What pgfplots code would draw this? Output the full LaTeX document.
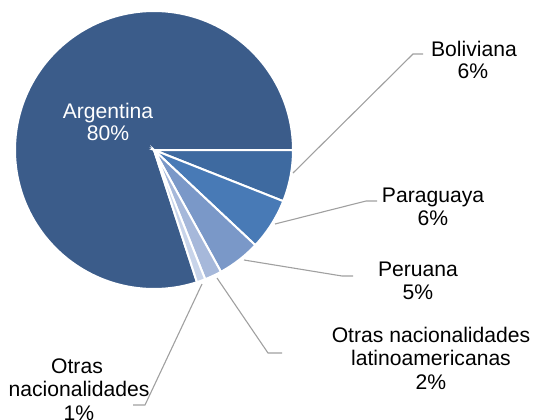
\documentclass[border=0pt]{standalone}
\usepackage{pgfplots}
\pgfplotsset{compat=1.18}
\usepackage{fontspec}
\setmainfont{Liberation Sans}
\definecolor{cArg}{RGB}{59,92,138}
\definecolor{cBol}{RGB}{62,106,160}
\definecolor{cPar}{RGB}{72,122,182}
\definecolor{cPer}{RGB}{122,152,200}
\definecolor{cOL}{RGB}{166,184,218}
\definecolor{cON}{RGB}{200,212,234}
\definecolor{lead}{RGB}{160,160,160}
% values (percent)
\def\vArg{80}\def\vBol{6}\def\vPar{6}\def\vPer{5}\def\vOL{2}\def\vON{1}
\begin{document}
\begin{tikzpicture}
\useasboundingbox (0,0) rectangle (536bp,420bp);
\pgfmathsetmacro\aArgS{0}
\pgfmathsetmacro\aArgE{3.6*\vArg}
\pgfmathsetmacro\aBolS{-3.6*\vBol}
\pgfmathsetmacro\aParS{\aBolS-3.6*\vPar}
\pgfmathsetmacro\aPerS{\aParS-3.6*\vPer}
\pgfmathsetmacro\aOLS{\aPerS-3.6*\vOL}
\pgfmathsetmacro\aONS{\aOLS-3.6*\vON}
\def\cx{154}\def\cy{150}\def\R{139}
\begin{axis}[
  scale only axis, width=536bp, height=420bp,
  xmin=0, xmax=536, ymin=0, ymax=420, y dir=reverse,
  hide axis, clip=false, enlargelimits=false,
]
\addplot[fill=cArg, draw=white, line width=2bp, domain=\aArgS:\aArgE, samples=150, variable=\t]
  ({\cx+\R*cos(\t)}, {\cy-\R*sin(\t)}) -- (axis cs:\cx,\cy) -- cycle;
\addplot[fill=cBol, draw=white, line width=2bp, domain=\aBolS:0, samples=20, variable=\t]
  ({\cx+\R*cos(\t)}, {\cy-\R*sin(\t)}) -- (axis cs:\cx,\cy) -- cycle;
\addplot[fill=cPar, draw=white, line width=2bp, domain=\aParS:\aBolS, samples=20, variable=\t]
  ({\cx+\R*cos(\t)}, {\cy-\R*sin(\t)}) -- (axis cs:\cx,\cy) -- cycle;
\addplot[fill=cPer, draw=white, line width=2bp, domain=\aPerS:\aParS, samples=20, variable=\t]
  ({\cx+\R*cos(\t)}, {\cy-\R*sin(\t)}) -- (axis cs:\cx,\cy) -- cycle;
\addplot[fill=cOL, draw=white, line width=2bp, domain=\aOLS:\aPerS, samples=10, variable=\t]
  ({\cx+\R*cos(\t)}, {\cy-\R*sin(\t)}) -- (axis cs:\cx,\cy) -- cycle;
\addplot[fill=cON, draw=white, line width=2bp, domain=\aONS:\aOLS, samples=10, variable=\t]
  ({\cx+\R*cos(\t)}, {\cy-\R*sin(\t)}) -- (axis cs:\cx,\cy) -- cycle;
% leader lines
\addplot[lead, line width=1.1bp] coordinates {(293,173) (413,54) (423,54)};
\addplot[lead, line width=1.1bp] coordinates {(275,224) (366,201) (377,201)};
\addplot[lead, line width=1.1bp] coordinates {(244,260) (342,276) (353,276)};
\addplot[lead, line width=1.1bp] coordinates {(217,278) (268,353) (282,353)};
\addplot[lead, line width=1.1bp] coordinates {(202,284) (145,405) (133,405)};
% labels
\begin{scope}[every node/.style={anchor=base, inner sep=0pt, font=\fontsize{21.2pt}{24pt}\selectfont}]
\node[white] at (axis cs:108,118) {Argentina};
\node[white] at (axis cs:108,140) {80\%};
\node at (axis cs:474,56) {Boliviana};
\node at (axis cs:473,78) {6\%};
\node at (axis cs:433,202) {Paraguaya};
\node at (axis cs:433,225) {6\%};
\node at (axis cs:418,276) {Peruana};
\node at (axis cs:418,299) {5\%};
\node at (axis cs:431,342) {Otras nacionalidades};
\node at (axis cs:431,365) {latinoamericanas};
\node at (axis cs:431,389) {2\%};
\node at (axis cs:77,373) {Otras};
\node at (axis cs:79,396) {nacionalidades};
\node at (axis cs:79,420) {1\%};
\end{scope}
\end{axis}
\end{tikzpicture}
\end{document}
